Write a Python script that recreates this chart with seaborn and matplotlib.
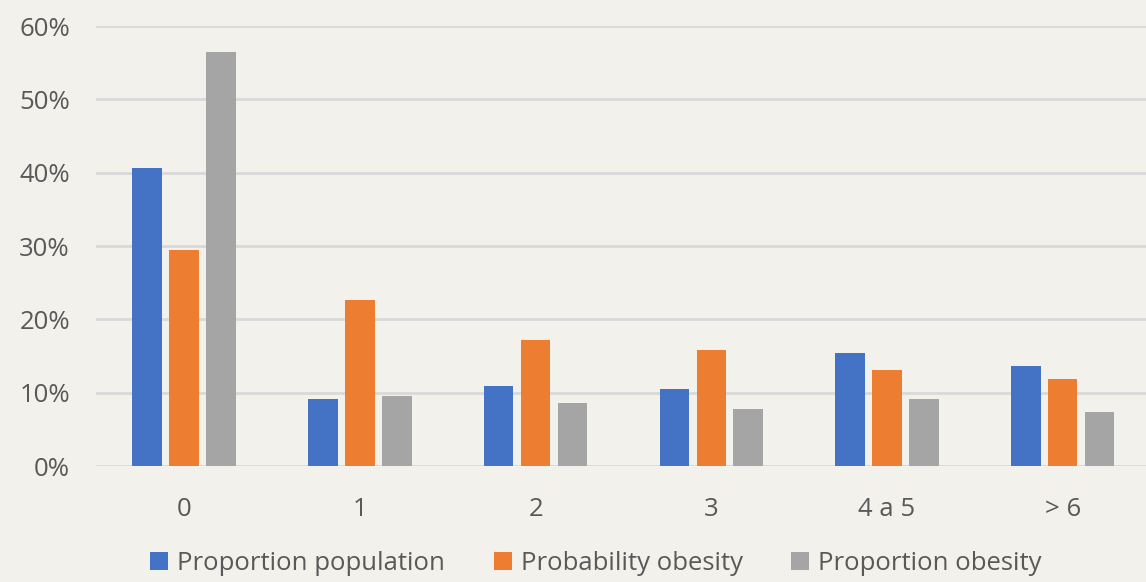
import numpy as np
import pandas as pd
import matplotlib
matplotlib.use('Agg')
import matplotlib.pyplot as plt
import seaborn as sns

# values (fractions)
categories = ['0', '1', '2', '3', '4 a 5', '> 6']
prop_population = [0.406, 0.091, 0.109, 0.105, 0.154, 0.136]
prob_obesity = [0.295, 0.226, 0.172, 0.158, 0.131, 0.119]
prop_obesity = [0.565, 0.095, 0.086, 0.078, 0.091, 0.074]
series_names = ['Proportion population', 'Probability obesity', 'Proportion obesity']

df = pd.DataFrame({
    'cat': categories * 3,
    'value': prop_population + prob_obesity + prop_obesity,
    'series': [series_names[0]] * 6 + [series_names[1]] * 6 + [series_names[2]] * 6,
})

bg = '#f3f1ec'
sns.set_style('white')
plt.rcParams['font.family'] = ['Open Sans', 'DejaVu Sans']

fig = plt.figure(figsize=(11.46, 5.82), dpi=100, facecolor=bg)
ax = fig.add_axes([0.084, 0.1993, 0.92, 0.7557])
ax.set_facecolor(bg)

palette = ['#4472C4', '#ED7D31', '#A5A5A5']
sns.barplot(data=df, x='cat', y='value', hue='series', palette=palette,
            width=0.63, gap=0.2, saturation=1, ax=ax, zorder=3,
            linewidth=0)

ax.set_xlim(-0.5, 5.5)
ax.set_ylim(0, 0.6)
ax.set_yticks(np.arange(0, 0.61, 0.1))
ax.set_yticklabels([f'{int(round(v*100))}%' for v in np.arange(0, 0.61, 0.1)])
ax.yaxis.grid(True, color='#d9d9d9', linewidth=2, zorder=0)
ax.set_axisbelow(True)
for s in ax.spines.values():
    s.set_visible(False)
ax.tick_params(axis='both', length=0, labelsize=18.5, colors='#595959')
ax.tick_params(axis='x', pad=22)
ax.tick_params(axis='y', pad=19)
ax.set_xlabel('')
ax.set_ylabel('')

handles, labels = ax.get_legend_handles_labels()
ax.get_legend().remove()
fig.legend(handles, labels, loc='lower center', bbox_to_anchor=(0.52, -0.03),
           ncol=3, frameon=False, fontsize=18.5, handlelength=0.7, handleheight=0.7,
           handletextpad=0.35, columnspacing=1.9, labelcolor='#595959')

fig.savefig('out.png', dpi=100, facecolor=bg)
